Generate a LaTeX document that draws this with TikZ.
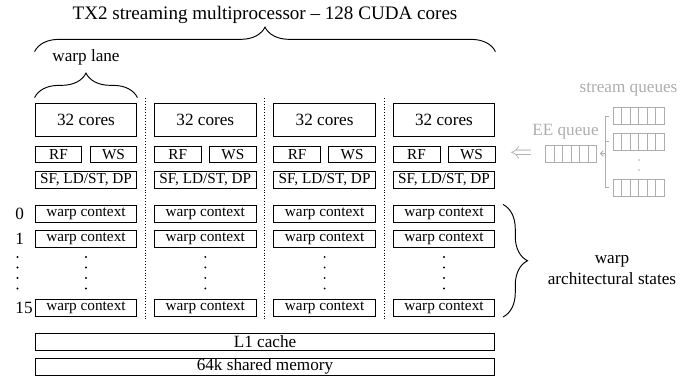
\documentclass[tikz,border=0pt]{standalone}
\usepackage{fontspec}
\setmainfont{Liberation Serif}
\usetikzlibrary{decorations.pathreplacing,calc,arrows.meta}

\colorlet{queuegray}{black!32}

\begin{document}
\begin{tikzpicture}[
x=0.524pt, y=-0.524pt, % one unit is one pixel of the sketch, y going down
>=stealth,
line width=0.5pt,
box/.style={draw, inner sep=0pt, minimum height=8.4pt, font=\footnotesize},
corebox/.style={box, minimum width=53.4pt, minimum height=17.8pt, font=\small},
ctxbox/.style={box, minimum width=53.4pt, minimum height=8.9pt},
membox/.style={box, minimum width=241pt, minimum height=8.9pt, font=\small},
brace/.style={decorate, decoration={brace, amplitude=12.8pt}},
dimtext/.style={text=queuegray, font=\small},
queue/.style={draw=queuegray, inner sep=0pt, minimum width=26.7pt, minimum height=8.9pt,
  path picture={\foreach \k in {1,...,5}
    \draw[queuegray] ($(path picture bounding box.south west)!\k/6!(path picture bounding box.south east)$)
      -- ($(path picture bounding box.north west)!\k/6!(path picture bounding box.north east)$);}}
]

\useasboundingbox (0,0) rectangle (699,379);

% ================= Warp lanes =================
\foreach \i/\cx in {1/86, 2/205.3, 3/324.6, 4/444} {
  \node[corebox] (core\i) at (\cx,120) {32 cores};
  \node[box, minimum width=24.6pt] (rf\i) at (\cx-27.5,154.5) {RF};
  \node[box, minimum width=24.6pt] (ws\i) at (\cx+27.5,154.5) {WS};
  \node[box, minimum width=53.4pt] (fu\i) at (\cx,180) {SF, LD/ST, DP};
  \node[ctxbox] (ctx\i-0) at (\cx,213.5) {warp context};
  \node[ctxbox] (ctx\i-1) at (\cx,239) {warp context};
  \node[ctxbox] (ctx\i-15) at (\cx,308) {warp context};
  \foreach \dy in {257,267.5,278,288.5}
    \fill (\cx,\dy) circle (0.55pt);
}

% lane separators
\foreach \sx in {145.6, 264.9, 384.3}
  \draw[densely dotted] (\sx,98) -- (\sx,319);

% ================= Warp slot numbers =================
\node[anchor=west, inner sep=0pt, font=\small] (slot0) at (15,213.5) {0};
\node[anchor=west, inner sep=0pt, font=\small] (slot1) at (15,239) {1};
\node[anchor=west, inner sep=0pt, font=\small] (slot15) at (15,308) {15};
\foreach \dy in {257,267.5,278,288.5}
  \fill (17.5,\dy) circle (0.55pt);

% ================= Shared memory =================
\node[membox] (l1) at (265,342) {L1 cache};
\node[membox] (smem) at (265,366.5) {64k shared memory};

% ================= Braces and their labels =================
\node (title) at (265,15) {TX2 streaming multiprocessor -- 128 CUDA cores};
\draw[brace] ([yshift=26.7pt]core1.north west) -- ([yshift=26.7pt]core4.north east);
\node[font=\small] (lane) at (86,57.5) {warp lane};
\draw[brace] ([yshift=2.6pt]core1.north west) -- ([yshift=2.6pt]core1.north east);
\draw[brace] ([xshift=4pt]ctx4-0.north east) -- ([xshift=4pt]ctx4-15.south east);
\node[font=\small, align=center] (states) at (612,270) {warp\\architectural states};

% ================= Queues =================
\node[dimtext] (sqtitle) at (628.5,90) {stream queues};
\node[queue] (sq1) at (638.5,116) {};
\node[queue] (sq2) at (638.5,141.5) {};
\node[queue] (sq3) at (638.5,187.5) {};
\fill[queuegray] (639,160) circle (0.5pt);
\fill[queuegray] (639,170) circle (0.5pt);
\node[queue] (ee) at (571,153.5) {};
\node[dimtext] (eetitle) at (565.5,132) {EE queue};
\node[dimtext, font=\large] (issue) at (521,154) {$\Leftarrow$};

\draw[queuegray] ([xshift=-2pt]sq1.west) -- ([xshift=-3.7pt]sq1.west)
  -- ([xshift=-3.7pt]sq3.west) -- ([xshift=-2pt]sq3.west);
\draw[queuegray] ([xshift=-2pt]sq2.west) -- ([xshift=-3.7pt]sq2.west);
\draw[queuegray, -{Straight Barb[length=1.5pt]}] ([xshift=-3.7pt]sq1.west |- ee.east) -- ([xshift=1.5pt]ee.east);

\end{tikzpicture}
\end{document}
